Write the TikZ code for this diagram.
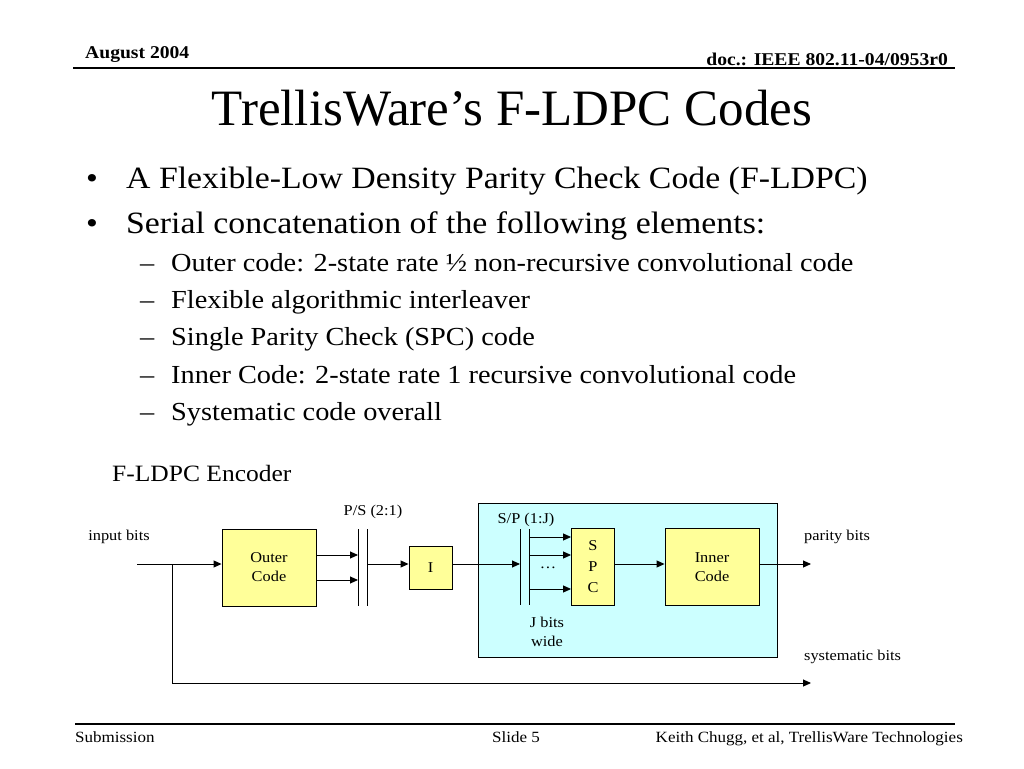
\documentclass[tikz,border=0pt]{standalone}
\usepackage{fontspec}
\setmainfont{Liberation Serif}
\newfontfamily\widefont[FakeStretch=1.09]{Liberation Serif}
\usetikzlibrary{arrows.meta}
\definecolor{blkyellow}{RGB}{255,255,153}
\definecolor{blkcyan}{RGB}{204,255,255}
\tikzset{
  blk/.style={draw, fill=blkyellow, line width=0.9pt, align=center,
    font=\widefont\fontsize{15}{19}\selectfont, inner sep=0pt},
  sig/.style={-{Triangle[length=8pt,width=7pt]}, line width=0.9pt},
  wire/.style={line width=0.9pt},
  lbl/.style={font=\widefont\fontsize{15}{20}\selectfont, inner sep=0pt, align=center},
  bullet/.style={anchor=base west, inner sep=0pt, font=\widefont\fontsize{31}{36}\selectfont},
  subbullet/.style={anchor=base west, inner sep=0pt, font=\widefont\fontsize{26}{30}\selectfont},
}

\begin{document}
\begin{tikzpicture}[x=1pt,y=-1pt]
\useasboundingbox (0,0) rectangle (1024,768);
% header and footer
\node[anchor=base west,inner sep=0pt,font=\widefont\bfseries\fontsize{18}{20}\selectfont] (date) at (85,59) {August 2004};
\node[anchor=base east,inner sep=0pt,font=\widefont\bfseries\fontsize{18}{20}\selectfont] (doc) at (948,66) {doc.: IEEE 802.11-04/0953r0};
\draw[line width=1.2pt] (73,68) -- (955,68);
\draw[line width=1.2pt] (75,724) -- (955,724);
\node[anchor=base west,inner sep=0pt,font=\widefont\fontsize{15.6}{17}\selectfont] (sub) at (75,742) {Submission};
\node[anchor=base,inner sep=0pt,font=\widefont\fontsize{15.6}{17}\selectfont] (slide) at (516,742) {Slide 5};
\node[anchor=base east,inner sep=0pt,font=\widefont\fontsize{15.6}{17}\selectfont] (auth) at (963,742) {Keith Chugg, et al, TrellisWare Technologies};
% title and text
\node[anchor=base,inner sep=0pt,font=\fontsize{51}{56}\selectfont] (title) at (512,125) {TrellisWare’s F-LDPC Codes};
\node[bullet] at (86,188) {•};
\node[bullet] (b1) at (126,188) {A Flexible-Low Density Parity Check Code (F-LDPC)};
\node[bullet] at (86,233) {•};
\node[bullet] (b2) at (126,233) {Serial concatenation of the following elements:};
\foreach \txt [count=\i] in {Outer code: 2-state rate ½ non-recursive convolutional code,
    Flexible algorithmic interleaver,
    Single Parity Check (SPC) code,
    Inner Code: 2-state rate 1 recursive convolutional code,
    Systematic code overall}{
  \node[subbullet] at (140,{234+37.3*\i}) {–};
  \node[subbullet] (s\i) at (171,{234+37.3*\i}) {\txt};
}
\node[anchor=base west,inner sep=0pt,font=\widefont\fontsize{23.4}{26}\selectfont] (enc) at (112,481) {F-LDPC Encoder};
% encoder
\draw[wire,fill=blkcyan] (478,503) rectangle (777,657);
\node[blk,minimum width=94pt,minimum height=77pt] (outer) at (269,567.5) {Outer\\Code};
\node[blk,minimum width=43pt,minimum height=43pt] (intl) at (430.5,567.5) {I};
\node[blk,minimum width=43pt,minimum height=77pt,font=\widefont\fontsize{15}{21}\selectfont] (spc) at (593,567) {S\\P\\C};
\node[blk,minimum width=94pt,minimum height=77pt] (inner) at (712,567) {Inner\\Code};
\coordinate (in) at (137,564);
\coordinate (tap) at (172,564);
\coordinate (ps) at (358,564);
\coordinate (ps2) at (367,564);
\coordinate (sp) at (520,564);
\coordinate (sp2) at (529,564);
\coordinate (par) at (811,564);
\coordinate (sys) at (811,683);
\draw[wire] (ps |- 0,529) -- (ps |- 0,606);
\draw[wire] (ps2 |- 0,529) -- (ps2 |- 0,606);
\draw[wire] (sp |- 0,529) -- (sp |- 0,605);
\draw[wire] (sp2 |- 0,529) -- (sp2 |- 0,605);
\draw[sig] (in) -- (in -| outer.west);
\draw[sig] (tap) |- (sys);
\draw[sig] (outer.east |- 0,555) -- (ps |- 0,555);
\draw[sig] (outer.east |- 0,580) -- (ps |- 0,580);
\draw[sig] (ps2) -- (ps2 -| intl.west);
\draw[sig] (intl.east |- sp) -- (sp);
\foreach \yy in {537,555,589}
  \draw[sig] (sp2 |- 0,\yy) -- (spc.west |- 0,\yy);
\draw[sig] (spc.east |- sp) -- (sp -| inner.west);
\draw[sig] (inner.east |- par) -- (par);
% labels
\node[lbl] (pslbl) at (373,512) {P/S (2:1)};
\node[lbl] (splbl) at (526,520) {S/P (1:J)};
\node[lbl] (dots) at (548,568) {…};
\node[lbl,font=\widefont\fontsize{15}{19}\selectfont] (jbits) at (547,632) {J bits\\wide};
\node[lbl] (inlbl) at (119,537) {input bits};
\node[lbl,anchor=west] (parlbl) at (804,537) {parity bits};
\node[lbl,anchor=west] (syslbl) at (804,657) {systematic bits};
\end{tikzpicture}
\end{document}
